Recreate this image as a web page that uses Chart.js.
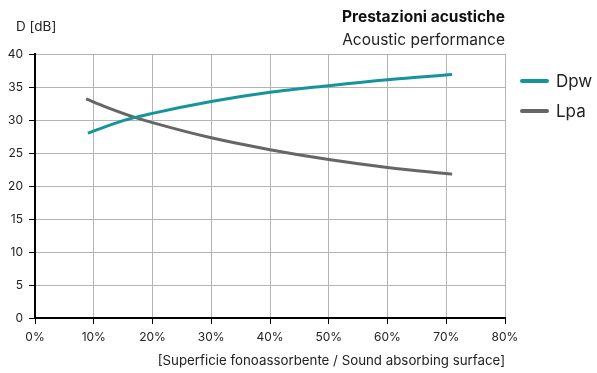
<!DOCTYPE html>
<html>
<head>
<meta charset="utf-8">
<script src="https://cdn.jsdelivr.net/npm/chart.js@4/dist/chart.umd.min.js"></script>
<style>
  body { margin: 0; background: #fff; font-family: Inter, "Open Sans", sans-serif; }
  #wrap { position: relative; width: 597px; height: 373px; }
  #title1 { position: absolute; right: 92px; top: 7px; font-size: 15.5px; font-weight: 700; color: #111; }
  #title2 { position: absolute; right: 92px; top: 30px; font-size: 15.5px; color: #222; }
  #yname { position: absolute; left: 16px; top: 18px; font-size: 13.5px; color: #222; }
  .leg { position: absolute; left: 520px; font-size: 17px; color: #222; display: flex; align-items: center; }
  .leg span { display: inline-block; width: 29px; height: 4px; border-radius: 2px; margin-right: 7px; }
</style>
</head>
<body>
<div id="wrap">
  <canvas id="myChart" width="597" height="373"></canvas>
  <div id="title1">Prestazioni acustiche</div>
  <div id="title2">Acoustic performance</div>
  <div id="yname">D [dB]</div>
  <div class="leg" style="top:71px"><span style="background:#14949b"></span>Dpw</div>
  <div class="leg" style="top:101px"><span style="background:#666666"></span>Lpa</div>
</div>
<script>
// surface share in %, levels in dB
const dpwX = [9, 15, 20, 30, 40, 50, 60, 71];
const dpwY = [28.0, 29.9, 31.0, 32.8, 34.2, 35.2, 36.1, 36.9];
const lpaX = [8.7, 12, 17, 20, 30, 40, 50, 60, 71];
const lpaY = [33.2, 32.0, 30.4, 29.6, 27.3, 25.5, 24.0, 22.8, 21.8];
const xTicks = [0, 10, 20, 30, 40, 50, 60, 70, 80];
const yTicks = [0, 5, 10, 15, 20, 25, 30, 35, 40];

function toPoints(xs, ys) {
  return xs.map((x, i) => ({ x: x, y: ys[i] }));
}

const tickFont = { family: 'Inter', size: 12 };

new Chart(document.getElementById('myChart'), {
  type: 'line',
  data: {
    datasets: [
      {
        label: 'Dpw',
        data: toPoints(dpwX, dpwY),
        borderColor: '#14949b',
        borderWidth: 3,
        pointRadius: 0,
        cubicInterpolationMode: 'monotone'
      },
      {
        label: 'Lpa',
        data: toPoints(lpaX, lpaY),
        borderColor: '#666666',
        borderWidth: 3,
        pointRadius: 0,
        cubicInterpolationMode: 'monotone'
      }
    ]
  },
  options: {
    responsive: false,
    animation: false,
    layout: { padding: { top: 54, right: 92, left: 0, bottom: 0 } },
    plugins: { legend: { display: false }, tooltip: { enabled: false } },
    scales: {
      x: {
        type: 'linear',
        min: 0,
        max: 80,
        afterBuildTicks: s => { s.ticks = xTicks.map(v => ({ value: v })); },
        afterFit: s => { s.height = 55; },
        ticks: { callback: v => v + '%', color: '#222', font: tickFont, padding: 6, maxRotation: 0 },
        grid: { color: '#b4b4b4', tickColor: '#000', tickLength: 6, lineWidth: 1 },
        border: { color: '#000', width: 2 },
        title: {
          display: true,
          text: '[Superficie fonoassorbente / Sound absorbing surface]',
          align: 'end',
          color: '#222',
          font: { family: 'Inter', size: 13.3 },
          padding: { top: 6 }
        }
      },
      y: {
        min: 0,
        max: 40,
        afterBuildTicks: s => { s.ticks = yTicks.map(v => ({ value: v })); },
        afterFit: s => { s.width = 35; },
        ticks: { color: '#222', font: tickFont, padding: 6 },
        grid: { color: '#b4b4b4', tickColor: '#000', tickLength: 6, lineWidth: 1 },
        border: { color: '#000', width: 2 }
      }
    }
  }
});
</script>
</body>
</html>
